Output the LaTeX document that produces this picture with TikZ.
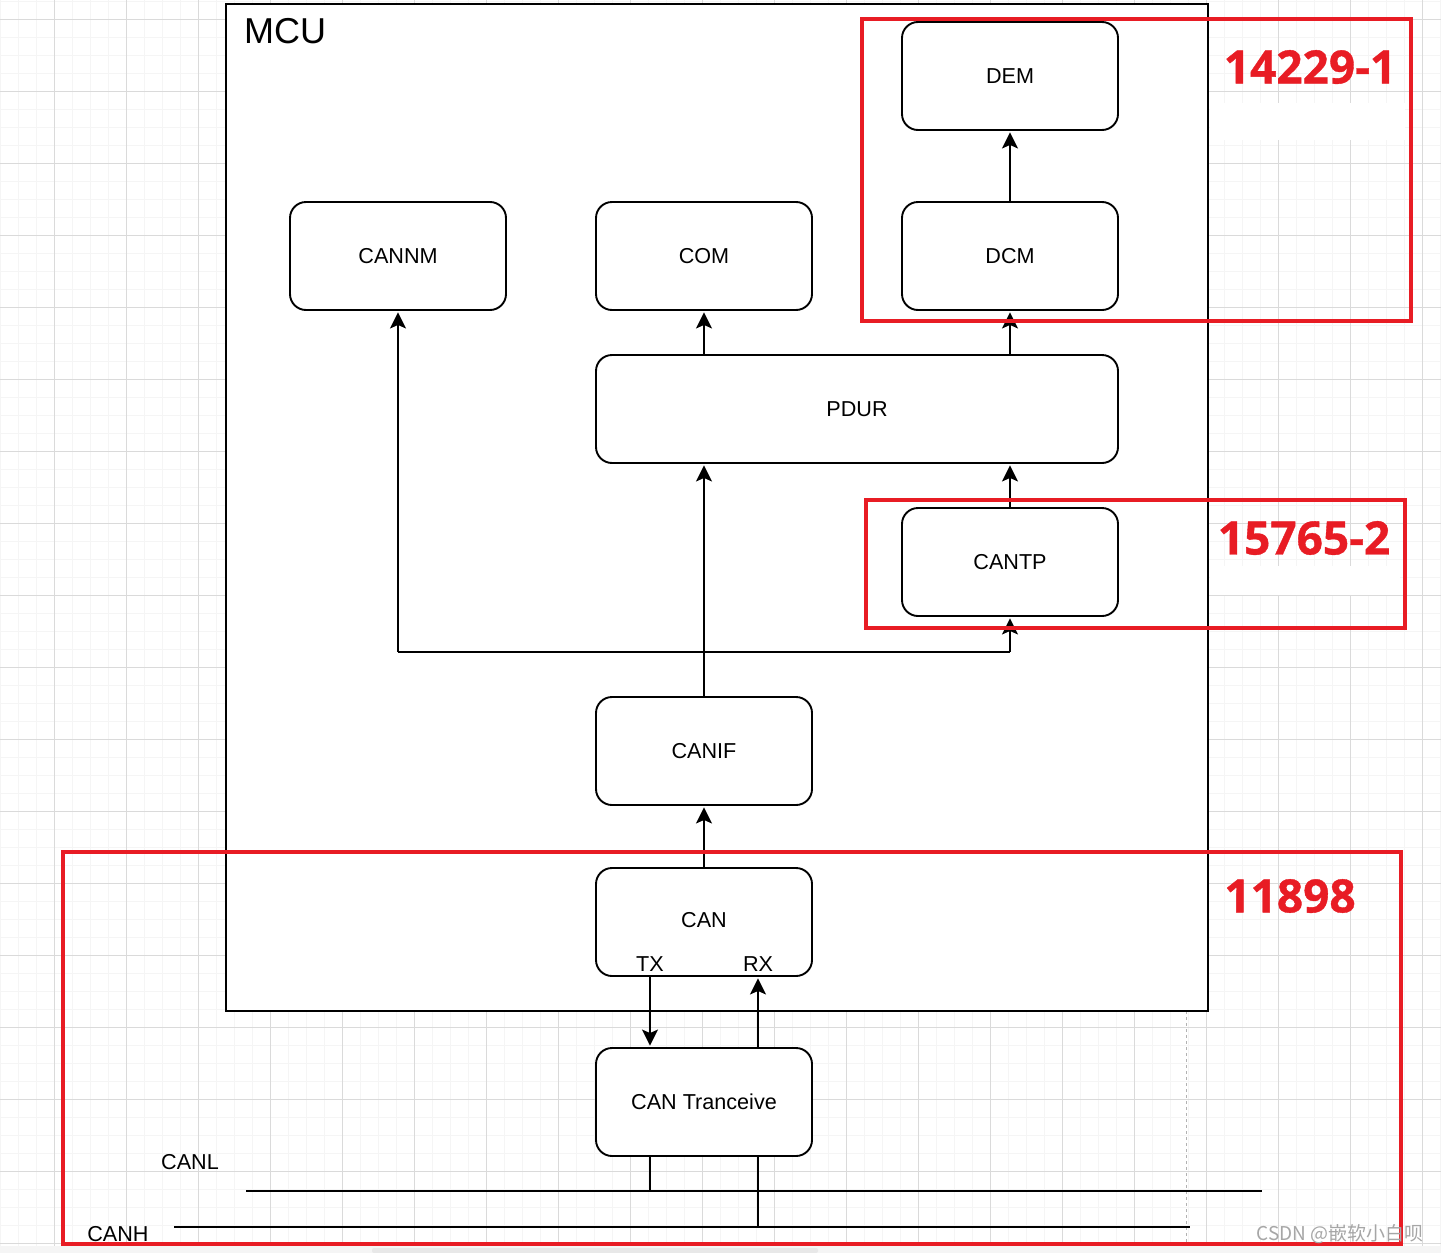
\documentclass[tikz,border=0pt]{standalone}
\usepackage{fontspec}
\setmainfont{Liberation Sans}
\newfontfamily\labfont{Open Sans}[BoldFeatures={FakeBold=0.8}]
\newfontfamily\cjkfont{Noto Sans CJK SC}
\usetikzlibrary{arrows.meta}
\definecolor{rlab}{RGB}{232,28,36}
\definecolor{gminor}{RGB}{245,245,245}
\definecolor{gmajor}{RGB}{218,218,218}
\begin{document}
\begin{tikzpicture}[x=1pt,y=-1pt,
  blk/.style={draw=black,line width=1.9pt,rounded corners=16pt,fill=white,minimum width=216pt,minimum height=108pt,inner sep=0pt,font=\fontsize{21.6}{26}\selectfont},
  conn/.style={draw=black,line width=2pt},
  arr/.style={conn,-{Stealth[length=16pt,width=16pt,inset=3.5pt]},shorten >=1.5pt},
  redbox/.style={draw=rlab,line width=3.6pt},
  redlab/.style={text=rlab,font=\labfont\bfseries\fontsize{46}{50}\selectfont,inner sep=0pt},
  plain/.style={font=\fontsize{21.6}{26}\selectfont,inner sep=0pt}]
\useasboundingbox (0,0) rectangle (1441,1253);
\fill[white] (0,0) rectangle (1441,1253);
% grid
\foreach \i in {0,...,80} \draw[gminor,line width=1pt] (\i*18,0) -- (\i*18,1246);
\foreach \j in {0,...,69} \draw[gminor,line width=1pt] (0,\j*18+1) -- (1441,\j*18+1);
\foreach \i in {0,...,20} \draw[gmajor,line width=1pt] (\i*72+54,0) -- (\i*72+54,1246);
\foreach \j in {0,...,17} \draw[gmajor,line width=1pt] (0,\j*72+19) -- (1441,\j*72+19);
\fill[white] (1210,103) rectangle (1405,140);
\fill[white] (1210,566) rectangle (1400,595);
% bottom strip
\fill[gray!8] (0,1246) rectangle (1441,1253);
\fill[gray!18,rounded corners=2pt] (372,1248) rectangle (818,1253);
% page break dashed line
\draw[gray!60,dashed,line width=1pt] (1186,1011) -- (1186,1246);
% MCU
\draw[black,line width=2.2pt,fill=white] (226,4) rectangle (1208,1011);
\node[anchor=west,inner sep=0pt,font=\fontsize{36}{40}\selectfont] (mcu) at (244,31) {MCU};
% boxes
\node[blk] (dem) at (1010,76) {DEM};
\node[blk] (cannm) at (398,256) {CANNM};
\node[blk] (com) at (704,256) {COM};
\node[blk] (dcm) at (1010,256) {DCM};
\node[blk,minimum width=522pt] (pdur) at (857,409) {PDUR};
\node[blk] (cantp) at (1010,562) {CANTP};
\node[blk] (canif) at (704,751) {CANIF};
\node[blk] (can) at (704,922) {};
\node[plain] (cantxt) at (704,920) {CAN};
\node[plain] (tx) at (650,964) {TX};
\node[plain] (rx) at (758,964) {RX};
\node[blk] (trx) at (704,1102) {CAN Tranceive};
% coordinates
\coordinate (jl) at (398,652);
\coordinate (jr) at (1010,652);
\coordinate (canlA) at (246,1191);
\coordinate (canlB) at (1262,1191);
\coordinate (canhA) at (174,1227);
\coordinate (canhB) at (1190,1227);
% connectors
\draw[arr] (dcm.north) -- (dem.south);
\draw[arr] (pdur.north -| com.south) -- (com.south);
\draw[arr] (pdur.north -| dcm.south) -- (dcm.south);
\draw[arr] (cantp.north) -- (pdur.south -| cantp.north);
\draw[arr] (canif.north) -- (pdur.south -| canif.north);
\draw[conn] (jl) -- (jr);
\draw[arr] (jl) -- (cannm.south);
\draw[arr] (jr) -- (cantp.south);
\draw[arr] (can.north) -- (canif.south);
\draw[arr] (can.south -| tx) -- (trx.north -| tx);
\draw[arr] (trx.north -| rx) -- (can.south -| rx);
% bus
\draw[conn] (canlA) -- (canlB);
\draw[conn] (canhA) -- (canhB);
\draw[conn] (trx.south -| tx) -- (canlA -| tx);
\draw[conn] (trx.south -| rx) -- (canhA -| rx);
\node[plain] (canl) at (190,1162) {CANL};
\node[plain] (canh) at (118,1234) {CANH};
% red frames
\draw[redbox] (862,19) rectangle (1411,321);
\draw[redbox] (866,500) rectangle (1405,628);
\draw[redbox] (63,852) rectangle (1401,1244);
\node[redlab] (l1) at (1310,67) {14229-1};
\node[redlab] (l2) at (1304,538) {15765-2};
\node[redlab] (l3) at (1290,896) {11898};
% watermark
\node[text=gray!70,font=\cjkfont\fontsize{19}{22}\selectfont,inner sep=0pt] (wm) at (1340,1234) {CSDN @嵌软小白呗};
\end{tikzpicture}
\end{document}
